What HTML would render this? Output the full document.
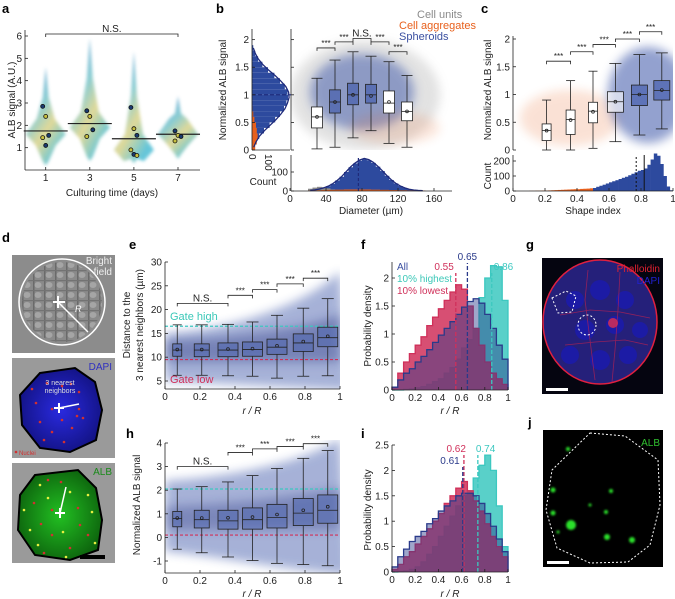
<!DOCTYPE html>
<html><head><meta charset="utf-8">
<style>
html,body{margin:0;padding:0;background:#fff;}
svg{display:block;font-family:"Liberation Sans",sans-serif;}
.t{font-size:10px;fill:#222;}
.pl{font-size:13px;font-weight:bold;fill:#000;}
</style></head>
<body>
<svg id="fig" width="675" height="599" viewBox="0 0 675 599" xmlns="http://www.w3.org/2000/svg">
<defs>
<filter id="blur4" x="-50%" y="-50%" width="200%" height="200%"><feGaussianBlur stdDeviation="5"/></filter>
<filter id="blur2" x="-50%" y="-50%" width="200%" height="200%"><feGaussianBlur stdDeviation="1.5"/></filter>
<filter id="blur1"><feGaussianBlur stdDeviation="1"/></filter>
<clipPath id="clipB"><rect x="291" y="29" width="161" height="121"/></clipPath>
<clipPath id="clipC"><rect x="513" y="29" width="160" height="121"/></clipPath>
<clipPath id="clipE"><rect x="165" y="255" width="175" height="134"/></clipPath>
<clipPath id="clipH"><rect x="165" y="440" width="175" height="133"/></clipPath>
<linearGradient id="vio" x1="0" y1="0" x2="0.6" y2="1">
<stop offset="0" stop-color="#3f7fd0"/><stop offset="0.45" stop-color="#6cc0c8"/><stop offset="0.7" stop-color="#d8d080"/><stop offset="1" stop-color="#40b8d0"/></linearGradient>
<radialGradient id="dapi" cx="0.5" cy="0.5" r="0.6"><stop offset="0" stop-color="#2a2ae0"/><stop offset="1" stop-color="#10107a"/></radialGradient>
<radialGradient id="albg" cx="0.5" cy="0.5" r="0.6"><stop offset="0" stop-color="#22c022"/><stop offset="1" stop-color="#0b5a0b"/></radialGradient>
<pattern id="bf" width="11" height="10" patternUnits="userSpaceOnUse"><rect width="11" height="10" fill="#8a8a8a"/><ellipse cx="5" cy="5" rx="3.5" ry="3" fill="#a8a8a8"/><rect x="0" y="0" width="1.5" height="10" fill="#666"/><rect x="0" y="0" width="11" height="1.2" fill="#707070"/></pattern>
</defs>

<text class="pl" x="2" y="13">a</text>
<text class="pl" x="216" y="13">b</text>
<text class="pl" x="481" y="13">c</text>
<text class="pl" x="2" y="242">d</text>
<text class="pl" x="129" y="249">e</text>
<text class="pl" x="361" y="249">f</text>
<text class="pl" x="526" y="249">g</text>
<text class="pl" x="126" y="438">h</text>
<text class="pl" x="361" y="438">i</text>
<text class="pl" x="528" y="427">j</text>

<text class="t" font-size="11" transform="translate(15,100) rotate(-90)" text-anchor="middle">ALB signal (A.U.)</text>
<text class="t" font-size="11" x="112" y="196" text-anchor="middle">Culturing time (days)</text>
<text class="t" font-size="11" transform="translate(226,90) rotate(-90)" text-anchor="middle">Normalized ALB signal</text>
<text class="t" font-size="11" x="263" y="185" text-anchor="middle">Count</text>
<text class="t" font-size="11" x="371" y="214" text-anchor="middle">Diameter (µm)</text>
<text font-size="11" x="417" y="18" fill="#8a8a8a">Cell units</text>
<text font-size="11" x="399" y="29" fill="#e8601c">Cell aggregates</text>
<text font-size="11" x="399" y="40" fill="#3a4fa0">Spheroids</text>
<text class="t" font-size="11" transform="translate(491,90) rotate(-90)" text-anchor="middle">Normalized ALB signal</text>
<text class="t" font-size="11" transform="translate(491,176) rotate(-90)" text-anchor="middle">Count</text>
<text class="t" font-size="11" x="593" y="214" text-anchor="middle">Shape index</text>
<text class="t" font-size="11" transform="translate(130,325) rotate(-90)" text-anchor="middle">Distance to the</text>
<text class="t" font-size="11" transform="translate(143,325) rotate(-90)" text-anchor="middle">3 nearest neighbors (µm)</text>
<text class="t" font-size="11" x="252" y="414" text-anchor="middle" font-style="italic">r / R</text>
<text class="t" font-size="11" transform="translate(140,505) rotate(-90)" text-anchor="middle">Normalized ALB signal</text>
<text class="t" font-size="11" x="252" y="597" text-anchor="middle" font-style="italic">r / R</text>
<text class="t" font-size="11" transform="translate(371,326) rotate(-90)" text-anchor="middle">Probability density</text>
<text class="t" font-size="11" x="450" y="414" text-anchor="middle" font-style="italic">r / R</text>
<text class="t" font-size="11" transform="translate(371,510) rotate(-90)" text-anchor="middle">Probability density</text>
<text class="t" font-size="11" x="450" y="597" text-anchor="middle" font-style="italic">r / R</text>
<text font-size="10" x="397" y="270" fill="#3a4fa0">All</text>
<text font-size="10" x="397" y="282" fill="#3cc8b8">10% highest</text>
<text font-size="10" x="397" y="294" fill="#d0305a">10% lowest</text>

<g>
<rect x="12" y="255" width="103" height="98" fill="#8c8c8c"/>
<circle cx="62" cy="302" r="40" fill="url(#bf)" opacity="0.9"/>
<circle cx="62" cy="302" r="43" fill="none" stroke="#fff" stroke-width="1.5"/>
<line x1="53" y1="302" x2="65" y2="302" stroke="#fff" stroke-width="2"/><line x1="58" y1="296" x2="58" y2="308" stroke="#fff" stroke-width="2"/>
<line x1="58" y1="302" x2="88" y2="332" stroke="#fff" stroke-width="1.5"/>
<text x="75" y="312" font-size="9" fill="#fff" font-style="italic">R</text>
<text x="112" y="264" font-size="10" fill="#eee" text-anchor="end">Bright</text>
<text x="112" y="275" font-size="10" fill="#eee" text-anchor="end">field</text>
</g>
<g>
<rect x="12" y="358" width="103" height="100" fill="#9a9a9a"/>
<polygon points="40,373 75,368 95,382 102,410 96,440 70,452 40,448 22,425 20,395" fill="url(#dapi)" stroke="#000" stroke-width="2"/>
<g fill="#d23030"><circle cx="32" cy="389" r="1.3"/><circle cx="47" cy="383" r="1.3"/><circle cx="62" cy="386" r="1.3"/><circle cx="71" cy="384" r="1.3"/><circle cx="79" cy="392" r="1.3"/><circle cx="36" cy="403" r="1.3"/><circle cx="52" cy="409" r="1.3"/><circle cx="79" cy="409" r="1.3"/><circle cx="77" cy="416" r="1.3"/><circle cx="40" cy="422" r="1.3"/><circle cx="62" cy="420" r="1.3"/><circle cx="83" cy="418" r="1.3"/><circle cx="52" cy="432" r="1.3"/><circle cx="72" cy="428" r="1.3"/><circle cx="44" cy="440" r="1.3"/><circle cx="64" cy="442" r="1.3"/><circle cx="16" cy="452" r="1.3"/></g>
<line x1="59" y1="408" x2="79" y2="404" stroke="#fff" stroke-width="1.5"/><line x1="54" y1="408" x2="64" y2="408" stroke="#fff" stroke-width="2"/><line x1="59" y1="403" x2="59" y2="413" stroke="#fff" stroke-width="2"/>
<text x="60" y="385" font-size="7" fill="#ddd" text-anchor="middle">3 nearest</text>
<text x="60" y="393" font-size="7" fill="#ddd" text-anchor="middle">neighbors</text>
<text x="112" y="370" font-size="10" fill="#3030c0" text-anchor="end">DAPI</text>
<text x="19" y="455" font-size="6" fill="#d23030">Nuclei</text>
</g>
<g>
<rect x="12" y="463" width="103" height="100" fill="#9a9a9a"/>
<polygon points="35,475 78,470 96,488 102,520 98,550 70,560 35,555 18,530 20,495" fill="url(#albg)" stroke="#000" stroke-width="2"/>
<g fill="#d23030"><circle cx="48" cy="480" r="1.3"/><circle cx="61" cy="482" r="1.3"/><circle cx="34" cy="503" r="1.3"/><circle cx="52" cy="510" r="1.3"/><circle cx="78" cy="508" r="1.3"/><circle cx="41" cy="524" r="1.3"/><circle cx="80" cy="525" r="1.3"/><circle cx="52" cy="535" r="1.3"/><circle cx="88" cy="535" r="1.3"/><circle cx="44" cy="553" r="1.3"/><circle cx="70" cy="548" r="1.3"/></g>
<g fill="#e8f040"><circle cx="40" cy="485" r="1.3"/><circle cx="70" cy="492" r="1.3"/><circle cx="88" cy="495" r="1.3"/><circle cx="24" cy="510" r="1.3"/><circle cx="48" cy="498" r="1.3"/><circle cx="92" cy="512" r="1.3"/><circle cx="30" cy="530" r="1.3"/><circle cx="63" cy="532" r="1.3"/><circle cx="95" cy="543" r="1.3"/><circle cx="38" cy="545" r="1.3"/><circle cx="66" cy="557" r="1.3"/></g>
<line x1="60" y1="513" x2="66" y2="487" stroke="#fff" stroke-width="1.5"/><line x1="55" y1="513" x2="65" y2="513" stroke="#fff" stroke-width="2"/><line x1="60" y1="508" x2="60" y2="518" stroke="#fff" stroke-width="2"/>
<text x="112" y="475" font-size="10" fill="#1a8a1a" text-anchor="end">ALB</text>
<rect x="80" y="555" width="25" height="4" fill="#000"/>
</g>
<g>
<rect x="542" y="258" width="121" height="136" fill="#050510"/>
<ellipse cx="600" cy="322" rx="57" ry="62" fill="#25207a" stroke="#e02040" stroke-width="1.5"/>
<g fill="#1a1ab0" opacity="0.8"><circle cx="575" cy="300" r="9"/><circle cx="600" cy="290" r="10"/><circle cx="625" cy="300" r="9"/><circle cx="585" cy="330" r="10"/><circle cx="615" cy="325" r="9"/><circle cx="640" cy="330" r="8"/><circle cx="570" cy="355" r="9"/><circle cx="600" cy="360" r="10"/><circle cx="628" cy="355" r="9"/></g>
<g fill="none" stroke="#c02050" stroke-width="0.8" opacity="0.7"><path d="M560,315 L590,310 L620,312 L650,318"/><path d="M565,345 L595,342 L625,340 L648,345"/><path d="M588,270 L585,300 L590,340 L595,380"/><path d="M620,272 L618,310 L615,350 L612,382"/></g>
<circle cx="613" cy="323" r="5" fill="#e03050" opacity="0.8"/>
<path d="M552,298 L566,291 L576,296 L572,312 L558,313 Z" fill="none" stroke="#fff" stroke-dasharray="2,2"/>
<ellipse cx="587" cy="325" rx="9" ry="10" fill="none" stroke="#fff" stroke-dasharray="2,2"/>
<text x="660" y="272" font-size="10" fill="#e02030" text-anchor="end">Phalloidin</text>
<text x="660" y="284" font-size="10" fill="#2020d0" text-anchor="end">DAPI</text>
<rect x="546" y="388" width="22" height="3" fill="#fff"/>
</g>
<g>
<rect x="543" y="430" width="120" height="137" fill="#000"/>
<polygon points="590,433 625,436 658,460 660,505 650,545 628,562 590,563 557,548 546,510 552,470" fill="none" stroke="#fff" stroke-dasharray="2,2"/>
<g fill="#2ce02c" filter="url(#blur1)"><circle cx="571" cy="525" r="5"/><circle cx="553" cy="490" r="2.5"/><circle cx="553" cy="513" r="2.5"/><circle cx="606" cy="512" r="2"/><circle cx="611" cy="491" r="2"/><circle cx="607" cy="537" r="3"/><circle cx="632" cy="540" r="3"/><circle cx="568" cy="449" r="2"/><circle cx="558" cy="532" r="1.5"/><circle cx="590" cy="505" r="1.5"/></g>
<text x="660" y="446" font-size="10" fill="#30c030" text-anchor="end">ALB</text>
<rect x="547" y="561" width="22" height="3" fill="#fff"/>
</g>

<g id="charts"></g>
</svg>
<script>
// ===== data =====
const aDays = [1, 3, 5, 7];
const aMeans = [1.75, 2.08, 1.4, 1.6];
const aVioTop = [4.6, 5.9, 5.3, 3.3];
const aVioBot = [0.2, 0.4, 0.3, 0.5];
const aVioMode = [1.6, 1.9, 0.9, 1.6];
const aReplicates = [[2.85, 2.4, 1.55, 1.45, 1.1], [2.65, 2.4, 1.8, 1.5], [2.8, 1.85, 1.55, 0.9, 0.7, 0.65], [1.75, 1.55, 1.5, 1.3]];
const aYTicks = [1, 2, 3, 4, 5, 6];
const bDiam = [30, 50, 70, 90, 110, 130];
const bQ1 = [0.4, 0.67, 0.82, 0.85, 0.67, 0.53];
const bMed = [0.6, 0.87, 1.0, 1.0, 0.85, 0.7];
const bQ3 = [0.78, 1.09, 1.21, 1.19, 1.07, 0.87];
const bLo = [0.02, 0.05, 0.22, 0.35, 0.12, 0.05];
const bHi = [1.3, 1.63, 1.78, 1.7, 1.6, 1.35];
const bMean = [0.6, 0.87, 1.0, 0.98, 0.87, 0.7];
const bBrackets = [[30, 50, 1.85, '***'], [50, 70, 1.96, '***'], [70, 90, 2.02, 'N.S.'], [90, 110, 1.96, '***'], [110, 130, 1.78, '***']];
const bSigBins = [0.05,0.15,0.25,0.35,0.45,0.55,0.65,0.75,0.85,0.95,1.05,1.15,1.25,1.35,1.45,1.55,1.65,1.75,1.85];
const bSigCounts = [10, 25, 45, 75, 110, 145, 175, 200, 215, 225, 222, 205, 175, 140, 100, 65, 38, 20, 8];
const bSigOrange = [20, 30, 35, 30, 25, 15, 8, 3, 1, 0, 0, 0, 0, 0, 0, 0, 0, 0, 0];
const bDiamBins = [20,25,30,35,40,45,50,55,60,65,70,75,80,85,90,95,100,105,110,115,120,125,130,135,140,145];
const bDiamCounts = [3,6,10,16,25,38,55,75,100,125,145,160,168,162,148,128,105,80,58,40,26,16,9,5,3,2];
const bDiamGray = [12,18,22,20,14,8,4,2,0,0,0,0,0,0,0,0,0,0,0,0,0,0,0,0,0,0];
const bDiamOrange = [2,3,4,5,6,6,7,7,8,8,8,8,8,8,7,7,6,6,5,5,4,4,3,3,2,2];
const bYTicks = [0, 0.5, 1, 1.5, 2];
const bXTicks = [0, 40, 80, 120, 160];
const cShape = [0.21, 0.36, 0.5, 0.64, 0.79, 0.93];
const cQ1 = [0.17, 0.28, 0.49, 0.68, 0.8, 0.9];
const cMed = [0.35, 0.55, 0.7, 0.87, 1.0, 1.07];
const cQ3 = [0.47, 0.72, 0.86, 1.05, 1.17, 1.25];
const cLo = [0.0, 0.0, 0.03, 0.15, 0.27, 0.38];
const cHi = [0.9, 1.25, 1.42, 1.56, 1.72, 1.75];
const cMean = [0.35, 0.54, 0.69, 0.87, 1.0, 1.08];
const cBrackets = [[0.21, 0.36, 1.6], [0.36, 0.5, 1.77], [0.5, 0.64, 1.9], [0.64, 0.79, 2.0], [0.79, 0.93, 2.13]];
const cHistOrange = [1,1,2,2,3,3,4,5,6,7,8,9,10,11,12,12,14,15,16,18];
const cHistBlue = [20,28,35,42,50,58,65,72,80,88,95,105,115,125,135,140,150,175,210,250,235,180,100,30,5];
const cXTicks = [0, 0.2, 0.4, 0.6, 0.8, 1];
const cCountTicks = [0, 100, 200];
const eR = [0.07, 0.21, 0.36, 0.5, 0.64, 0.79, 0.93];
const eQ1 = [10.2, 10.1, 10.1, 10.2, 10.6, 11.2, 12.2];
const eMed = [11.5, 11.5, 11.5, 11.6, 12.1, 13.0, 14.1];
const eQ3 = [12.8, 12.8, 13.0, 13.2, 13.8, 14.9, 16.3];
const eLo = [6.2, 6.2, 6.1, 6.0, 5.6, 6.0, 6.1];
const eHi = [16.8, 16.8, 16.9, 17.4, 18.8, 20.3, 22.3];
const eMean = [11.6, 11.6, 11.7, 11.8, 12.4, 13.3, 14.4];
const eBrackets = [[0.07, 0.36, 21.3, 'N.S.'], [0.36, 0.5, 23.0, '***'], [0.5, 0.64, 24.2, '***'], [0.64, 0.79, 25.4, '***'], [0.79, 0.93, 26.6, '***']];
const eGates = [16.5, 9.5];
const eYTicks = [5, 10, 15, 20, 25, 30];
const hQ1 = [0.45, 0.4, 0.35, 0.35, 0.4, 0.5, 0.6];
const hMed = [0.8, 0.75, 0.7, 0.75, 0.85, 1.03, 1.15];
const hQ3 = [1.1, 1.15, 1.15, 1.25, 1.4, 1.65, 1.8];
const hLo = [-0.5, -0.65, -0.83, -0.98, -1.1, -1.15, -1.2];
const hHi = [2.05, 2.15, 2.35, 2.62, 2.92, 3.35, 3.68];
const hMean = [0.82, 0.82, 0.83, 0.86, 0.97, 1.15, 1.3];
const hBrackets = [[0.07, 0.36, 3.0, 'N.S.'], [0.36, 0.5, 3.6, '***'], [0.5, 0.64, 3.75, '***'], [0.64, 0.79, 3.85, '***'], [0.79, 0.93, 3.97, '***']];
const hGates = [2.05, 0.1];
const hYTicks = [-1, 0, 1, 2, 3, 4];
const rTicks = [0, 0.2, 0.4, 0.6, 0.8, 1];
const fAll = [0.05,0.18,0.3,0.38,0.5,0.6,0.72,0.85,0.98,1.1,1.22,1.35,1.48,1.58,1.63,1.55,1.35,1.1,0.8,0.55];
const fLow = [0.05,0.3,0.5,0.65,0.8,0.95,1.15,1.3,1.45,1.6,1.75,1.88,1.8,1.5,1.1,0.8,0.5,0.3,0.2,0.1];
const fHigh = [0,0,0.01,0.02,0.04,0.06,0.1,0.15,0.2,0.3,0.4,0.55,0.75,0.9,1.1,1.65,2.0,2.22,2.2,1.6];
// medians: [lowest, all, highest]
const fMedians = [0.55, 0.65, 0.86];
const fYTicks = [0, 0.5, 1, 1.5, 2];
const iAll = [0.1,0.3,0.45,0.6,0.7,0.8,0.95,1.05,1.2,1.3,1.4,1.5,1.55,1.55,1.5,1.35,1.15,0.9,0.65,0.4];
const iLow = [0.05,0.15,0.3,0.4,0.55,0.7,0.85,1.0,1.15,1.35,1.5,1.65,1.78,1.6,1.4,1.2,0.95,0.7,0.5,0.3];
const iHigh = [0,0.01,0.02,0.05,0.1,0.2,0.35,0.5,0.7,0.9,1.1,1.3,1.5,1.6,1.85,2.1,2.3,2.0,1.3,0.5];
const iMedians = [0.62, 0.61, 0.74];
const iYTicks = [0, 0.5, 1, 1.5, 2, 2.5];

// ===== helpers =====
const NS = 'http://www.w3.org/2000/svg';
const root = document.getElementById('charts');
function mk(tag, attrs, parent) {
  const e = document.createElementNS(NS, tag);
  for (const k in attrs) e.setAttribute(k, attrs[k]);
  (parent || root).appendChild(e);
  return e;
}
function lin(d0, d1, r0, r1) { return v => r0 + (v - d0) * (r1 - r0) / (d1 - d0); }
const C = { navy: '#1f2a7a', blue: '#3a55a8', orange: '#e8601c', gray: '#8a8a8a', teal: '#3cc8c0', crim: '#d0305a' };

function yAxis(x, sy, ticks, yTop, yBot, labels) {
  const g = mk('g', {});
  
  
  mk('line', { x1: x, y1: yTop, x2: x, y2: yBot, stroke: '#222', 'stroke-width': 0.8 }, g);
  ticks.forEach(t => {
    const y = sy(t);
    mk('line', { x1: x, y1: y, x2: x + 3, y2: y, stroke: '#222', 'stroke-width': 0.8 }, g);
    if (labels) {
      const tx = mk('text', { x: x - 3, y: y + 3.5, 'text-anchor': 'end', class: 't' }, g);
      
      tx.textContent = t;
    }
  });
  return g;
}
function xAxis(y, sx, ticks, xL, xR, labels) {
  const g = mk('g', {});
  
  
  mk('line', { x1: xL, y1: y, x2: xR, y2: y, stroke: '#222', 'stroke-width': 0.8 }, g);
  ticks.forEach(t => {
    const x = sx(t);
    mk('line', { x1: x, y1: y, x2: x, y2: y - 3, stroke: '#222', 'stroke-width': 0.8 }, g);
    if (labels) {
      const tx = mk('text', { x: x, y: y + 11, 'text-anchor': 'middle', class: 't' }, g);
      
      tx.textContent = t;
    }
  });
  return g;
}
function boxes(xs, q1, med, q3, lo, hi, mean, sx, sy, widths, fills, name) {
  xs.forEach((xv, i) => {
    const x = sx(xv), w = widths[i], cap = Math.min(6, w / 2);
    const g = mk('g', {});
    
    
    const st = { stroke: '#222', 'stroke-width': 0.8 };
    mk('line', Object.assign({ x1: x, y1: sy(hi[i]), x2: x, y2: sy(q3[i]) }, st), g);
    mk('line', Object.assign({ x1: x, y1: sy(q1[i]), x2: x, y2: sy(lo[i]) }, st), g);
    mk('line', Object.assign({ x1: x - cap, y1: sy(hi[i]), x2: x + cap, y2: sy(hi[i]) }, st), g);
    mk('line', Object.assign({ x1: x - cap, y1: sy(lo[i]), x2: x + cap, y2: sy(lo[i]) }, st), g);
    mk('rect', Object.assign({ x: x - w / 2, y: sy(q3[i]), width: w, height: sy(q1[i]) - sy(q3[i]), fill: fills[i] }, st), g);
    mk('line', Object.assign({ x1: x - w / 2, y1: sy(med[i]), x2: x + w / 2, y2: sy(med[i]) }, st), g);
    mk('circle', { cx: x, cy: sy(mean[i]), r: 1.4, fill: 'none', stroke: '#222', 'stroke-width': 0.8 }, g);
  });
}
function bracket(x1, x2, y, label, sz) {
  const g = mk('g', {});
  
  
  mk('path', { d: `M${x1},${y + 3} V${y} H${x2} V${y + 3}`, fill: 'none', stroke: '#222', 'stroke-width': 0.8 }, g);
  const t = mk('text', { x: (x1 + x2) / 2, y: y - 2, 'text-anchor': 'middle', 'font-size': sz || 8, fill: '#222' }, g);
  
  t.textContent = label;
}
function stepHist(vals, sx, sy, color, fillOp, name, binW) {
  let d = `M${sx(0)},${sy(0)}`;
  vals.forEach((v, i) => { d += ` V${sy(v)} H${sx((i + 1) * binW)}`; });
  d += ` V${sy(0)}`;
  const p = mk('path', { d: d + ' Z', fill: color, 'fill-opacity': fillOp, stroke: 'none' });
  
  const l = mk('path', { d: d, fill: 'none', stroke: color, 'stroke-width': 1.3 });
  
}

// ===== panel a =====
const ax = lin(1, 7, 45.7, 178);
const ay = lin(0, 6, 170, 36);
aDays.forEach((d, i) => {
  const x = ax(d), m = aVioMode[i], t = aVioTop[i], b = aVioBot[i];
  const pts = [[0, t], [3, m + (t - m) * 0.55], [9, m + 0.7], [20, m], [10, m - 0.5], [3, b + 0.2], [0, b]];
  let dd = 'M' + x + ',' + ay(t);
  pts.slice(1).forEach(p => { dd += ' L' + (x + p[0]) + ',' + ay(p[1]); });
  pts.slice().reverse().slice(1).forEach(p => { dd += ' L' + (x - p[0]) + ',' + ay(p[1]); });
  const v = mk('path', { d: dd + ' Z', fill: 'url(#vio)', opacity: 0.8, filter: 'url(#blur2)', 'stroke-linejoin': 'round' });
  
  const ml = mk('line', { x1: x - 22, y1: ay(aMeans[i]), x2: x + 22, y2: ay(aMeans[i]), stroke: '#222', 'stroke-width': 1.2 });
  
  aReplicates[i].forEach((r, j) => {
    const c = mk('circle', { cx: x + ((j % 3) - 1) * 3, cy: ay(r), r: 2, fill: j % 2 ? '#c8c040' : '#1a3a70', stroke: '#111', 'stroke-width': 0.8 });
    
  });
});
yAxis(25, ay, aYTicks, 30, 170, true);
xAxis(170, ax, aDays, 25, 200, true);
bracket(ax(1), ax(7), 34, 'N.S.', 10);

// ===== panel b =====
const by = lin(0, 2.2, 150, 28.6);
const bx = lin(0, 180, 290, 452);
const hxB = lin(0, 100, 252, 268);
const bClouds = mk('g', { 'clip-path': 'url(#clipB)' });

let cl = mk('ellipse', { cx: 365, cy: 95, rx: 75, ry: 55, fill: '#a0a0a0', opacity: 0.3, filter: 'url(#blur4)' }, bClouds);

cl = mk('ellipse', { cx: 362, cy: 92, rx: 52, ry: 38, fill: C.blue, opacity: 0.5, filter: 'url(#blur4)' }, bClouds);

cl = mk('ellipse', { cx: 395, cy: 128, rx: 45, ry: 16, fill: C.orange, opacity: 0.15, filter: 'url(#blur4)' }, bClouds);

boxes(bDiam, bQ1, bMed, bQ3, bLo, bHi, bMean, bx, by, bDiam.map(() => 11), ['#fff', 'rgba(58,85,168,0.6)', 'rgba(58,85,168,0.6)', 'rgba(58,85,168,0.6)', '#fff', '#fff'], 'b-box');
bBrackets.forEach(b => bracket(bx(b[0]), bx(b[1]), by(b[2]), b[3], b[3] === 'N.S.' ? 10 : 8));
yAxis(291, by, bYTicks, 29, 150, false);
bSigBins.forEach((s, i) => {
  const r = mk('rect', { x: 252, y: by(s + 0.05), width: hxB(bSigCounts[i]) - 252, height: by(0) - by(0.1), fill: '#2d4a9e' });
  
  if (bSigOrange[i] > 0) {
    const o = mk('rect', { x: 252, y: by(s + 0.05), width: hxB(bSigOrange[i]) - 252, height: by(0) - by(0.1), fill: C.orange });
    
  }
});
let fitD = '';
bSigBins.forEach((s, i) => { fitD += (i ? ' L' : 'M') + hxB(bSigCounts[i] * 1.03) + ',' + by(s); });
let fp = mk('path', { d: fitD, fill: 'none', stroke: C.navy, 'stroke-width': 1.3 });

fp = mk('line', { x1: 252, y1: by(1), x2: 291, y2: by(1), stroke: C.navy, 'stroke-dasharray': '4,2', 'stroke-width': 1.2 });

yAxis(252, by, bYTicks, 29, 150, true);
mk('line', { x1: 252, y1: 150, x2: 290, y2: 150, stroke: '#222', 'stroke-width': 0.8 });
[0, 100].forEach(c => {
  const t = mk('text', { transform: `translate(${hxB(c) - 3},154) rotate(90)`, class: 't' });
  
  t.textContent = c;
});
const bhy = lin(0, 100, 191, 172);
bDiamBins.forEach((d, i) => {
  const w = bx(5) - bx(0) + 0.3;
  let r = mk('rect', { x: bx(d), y: bhy(bDiamCounts[i]), width: w, height: 191 - bhy(bDiamCounts[i]), fill: '#2d4a9e' });
  
  if (bDiamGray[i]) { r = mk('rect', { x: bx(d), y: bhy(bDiamGray[i]), width: w, height: 191 - bhy(bDiamGray[i]), fill: C.gray });  }
  r = mk('rect', { x: bx(d), y: bhy(bDiamOrange[i]), width: w, height: 191 - bhy(bDiamOrange[i]), fill: C.orange });
  
});
let fd = '';
bDiamBins.forEach((d, i) => { fd += (i ? ' L' : 'M') + (bx(d + 2.5)) + ',' + bhy(bDiamCounts[i] * 1.02); });
fp = mk('path', { d: fd, fill: 'none', stroke: C.navy, 'stroke-width': 1.3 });

fp = mk('line', { x1: bx(76), y1: 191, x2: bx(76), y2: 158, stroke: C.navy, 'stroke-dasharray': '3,2', 'stroke-width': 1.2 });

yAxis(291, bhy, [0, 100], 155, 191, true);
xAxis(191, bx, bXTicks, 291, 452, true);

// ===== panel c =====
const cx = lin(0, 1, 513, 673);
const cy = lin(0, 2, 150, 39);
const cClouds = mk('g', { 'clip-path': 'url(#clipC)' });

cl = mk('ellipse', { cx: 570, cy: 118, rx: 50, ry: 28, fill: C.orange, opacity: 0.18, filter: 'url(#blur4)' }, cClouds);

cl = mk('ellipse', { cx: 648, cy: 95, rx: 40, ry: 48, fill: C.blue, opacity: 0.55, filter: 'url(#blur4)' }, cClouds);

boxes(cShape, cQ1, cMed, cQ3, cLo, cHi, cMean, cx, cy, cShape.map((s, i) => i < 3 ? 9 : 16), ['#fff', '#fff', '#fff', 'rgba(255,255,255,0.6)', 'rgba(58,85,168,0.6)', 'rgba(58,85,168,0.6)'], 'c-box');
cBrackets.forEach(b => bracket(cx(b[0]), cx(b[1]), cy(b[2]), '***', 8));
yAxis(513, cy, bYTicks, 36, 150, true);
const chy = lin(0, 200, 191, 161);
cHistOrange.forEach((v, i) => {
  const s = 0.1 + i * 0.02;
  const r = mk('rect', { x: cx(s), y: chy(v), width: cx(0.02) - cx(0) + 0.3, height: 191 - chy(v), fill: C.orange });
  
});
cHistBlue.forEach((v, i) => {
  const s = 0.5 + i * 0.02;
  const r = mk('rect', { x: cx(s), y: chy(v), width: cx(0.02) - cx(0) + 0.3, height: 191 - chy(v), fill: '#2d4a9e' });
  
});
fp = mk('line', { x1: cx(0.77), y1: 191, x2: cx(0.77), y2: 155, stroke: '#111', 'stroke-dasharray': '2,2' });

fp = mk('line', { x1: cx(0.82), y1: 191, x2: cx(0.82), y2: 155, stroke: '#111' });

yAxis(513, chy, cCountTicks, 155, 191, true);
xAxis(191, cx, cXTicks, 513, 673, true);

// ===== panel e =====
const ex = lin(0, 1, 165, 340);
const ey = lin(5, 30, 381, 262);
const boxW = [9, 15, 20, 20, 20, 20, 20];
const eClouds = mk('g', { 'clip-path': 'url(#clipE)' });

cl = mk('path', { d: `M${ex(0)},${ey(15)} C${ex(0.4)},${ey(16)} ${ex(0.8)},${ey(21)} ${ex(1)},${ey(28)} L${ex(1.05)},${ey(3)} L${ex(0)},${ey(5)} Z`, fill: C.blue, opacity: 0.45, filter: 'url(#blur4)' }, eClouds);

cl = mk('path', { d: `M${ex(0)},${ey(13.5)} C${ex(0.4)},${ey(14)} ${ex(0.8)},${ey(16)} ${ex(1)},${ey(19)} L${ex(1)},${ey(9)} L${ex(0)},${ey(9)} Z`, fill: C.navy, opacity: 0.35, filter: 'url(#blur4)' }, eClouds);

eGates.forEach((g, i) => {
  const l = mk('line', { x1: ex(0), y1: ey(g), x2: ex(1), y2: ey(g), stroke: i ? C.crim : C.teal, 'stroke-dasharray': '3,2', 'stroke-width': 1.2 });
  
});
let gt = mk('text', { x: 170, y: ey(17.8), 'font-size': 11, fill: '#3cc8b8' });

gt.textContent = 'Gate high';
gt = mk('text', { x: 170, y: ey(4.6), 'font-size': 11, fill: C.crim });

gt.textContent = 'Gate low';
boxes(eR, eQ1, eMed, eQ3, eLo, eHi, eMean, ex, ey, boxW, eR.map(() => 'rgba(58,85,168,0.35)'), 'e-box');
eBrackets.forEach(b => bracket(ex(b[0]), ex(b[1]), ey(b[2]), b[3], b[3] === 'N.S.' ? 10 : 8));
yAxis(165, ey, eYTicks, 262, 389, true);
xAxis(389, ex, rTicks, 165, 340, true);

// ===== panel h =====
const hy = lin(4, -1, 443, 561);
const hClouds = mk('g', { 'clip-path': 'url(#clipH)' });

cl = mk('path', { d: `M${ex(0)},${hy(2.4)} C${ex(0.4)},${hy(2.6)} ${ex(0.8)},${hy(3.2)} ${ex(1)},${hy(4.2)} L${ex(1.05)},${hy(-1.6)} C${ex(0.6)},${hy(-1.3)} ${ex(0.3)},${hy(-0.8)} ${ex(0)},${hy(-0.6)} Z`, fill: C.blue, opacity: 0.45, filter: 'url(#blur4)' }, hClouds);

cl = mk('path', { d: `M${ex(0)},${hy(1.3)} C${ex(0.4)},${hy(1.4)} ${ex(0.8)},${hy(1.8)} ${ex(1)},${hy(2.1)} L${ex(1)},${hy(0.3)} L${ex(0)},${hy(0.3)} Z`, fill: C.navy, opacity: 0.3, filter: 'url(#blur4)' }, hClouds);

hGates.forEach((g, i) => {
  const l = mk('line', { x1: ex(0), y1: hy(g), x2: ex(1), y2: hy(g), stroke: i ? C.crim : C.teal, 'stroke-dasharray': '3,2', 'stroke-width': 1.2 });
  
});
boxes(eR, hQ1, hMed, hQ3, hLo, hHi, hMean, ex, hy, boxW, eR.map(() => 'rgba(58,85,168,0.35)'), 'h-box');
hBrackets.forEach(b => bracket(ex(b[0]), ex(b[1]), hy(b[2]), b[3], b[3] === 'N.S.' ? 10 : 8));
yAxis(165, hy, hYTicks, 443, 573, true);
xAxis(573, ex, rTicks, 165, 340, true);

// ===== panels f & i =====
// labelSpec per median [lowest, all, highest]: [labelY, anchor, dx]
function densityPanel(all, low, high, medians, sy, yTicks, yTop, yBase, spec, prefix) {
  const sx = lin(0, 1, 392, 508);
  stepHist(high, sx, sy, C.teal, 0.85, prefix + '-highest-hist', 0.05);
  stepHist(low, sx, sy, C.crim, 0.85, prefix + '-lowest-hist', 0.05);
  stepHist(all, sx, sy, '#2a3a8a', 0.45, prefix + '-all-hist', 0.05);
  const cols = [C.crim, '#2a3a8a', C.teal];
  medians.forEach((m, k) => {
    const col = cols[k], sp = spec[k];
    const l = mk('line', { x1: sx(m), y1: sy(0), x2: sx(m), y2: sp[0] + 3, stroke: col, 'stroke-dasharray': '4,2', 'stroke-width': 1.3 });
    
    const t = mk('text', { x: sx(m) + sp[2], y: sp[0], 'font-size': 10, fill: col, 'text-anchor': sp[1] });
    
    t.textContent = m;
  });
  yAxis(392, sy, yTicks, yTop, yBase, true);
  xAxis(yBase, sx, rTicks, 392, 508, true);
}
densityPanel(fAll, fLow, fHigh, fMedians, lin(0, 2, 390, 278), fYTicks, 262, 390,
  [[270, 'end', -2], [260, 'middle', 0], [270, 'start', 2]], 'f');
densityPanel(iAll, iLow, iHigh, iMedians, lin(0, 2.5, 572, 445), iYTicks, 445, 572,
  [[452, 'end', 2], [464, 'end', -3], [452, 'start', -2]], 'i');
</script>
</body></html>
